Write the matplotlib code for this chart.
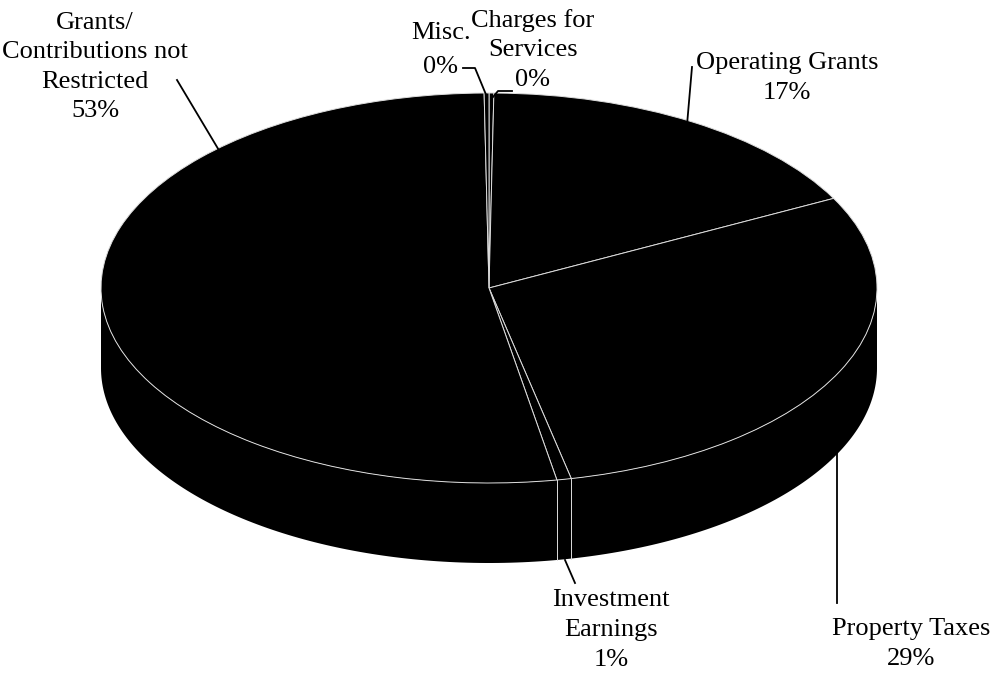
import numpy as np
import matplotlib.pyplot as plt
import matplotlib.patches as mpatches
from matplotlib.transforms import Affine2D

# revenue shares (percent), clockwise from 12 o'clock
names = ["Charges for\nServices", "Operating Grants", "Property Taxes",
         "Investment\nEarnings", "Grants/\nContributions not\nRestricted", "Misc."]
values = [0.2, 17.2, 29.2, 0.6, 52.6, 0.2]

plt.rcParams['font.family'] = ['Liberation Serif', 'DejaVu Serif']

fig = plt.figure(figsize=(9.94, 6.73), dpi=100)
ax = fig.add_axes([0, 0, 1, 1])
ax.set_xlim(0, 994)
ax.set_ylim(673, 0)
ax.axis('off')

# ellipse geometry in pixels
cx, cy, rx, ry, depth = 489, 288, 388, 195, 80
h = depth / ry
tr = Affine2D().scale(rx, -ry).translate(cx, cy) + ax.transData

# angles of slice boundaries (degrees, clockwise from top)
total = sum(values)
bounds = [90 - 360 * c / total for c in np.concatenate([[0], np.cumsum(values)])]

# side wall (front half)
t = np.radians(np.linspace(180, 360, 200))
side = np.concatenate([np.c_[np.cos(t), np.sin(t)],
                       np.c_[np.cos(t[::-1]), np.sin(t[::-1]) - h]])
ax.add_patch(mpatches.Polygon(side, closed=True, facecolor='black',
                              edgecolor='none', transform=tr))
for b in bounds:
    a = np.radians(b % 360)
    if np.sin(a) < 0:
        ax.plot([np.cos(a), np.cos(a)], [np.sin(a), np.sin(a) - h],
                color='#dddddd', lw=0.7, transform=tr)

# top face
for i in range(len(values)):
    w = mpatches.Wedge((0, 0), 1, bounds[i + 1], bounds[i], facecolor='black',
                       edgecolor='#dddddd', lw=0.7, transform=tr)
    ax.add_patch(w)

pct = [f"{v / total * 100:.0f}%" for v in values]
fs = 19
ls = 1.45

# labels and leader lines
ax.text(533, 50, names[0] + "\n" + pct[0], ha='center', va='center', fontsize=fs, linespacing=ls)
ax.plot([512, 498, 493], [91, 91, 97], color='black', lw=1.3)

ax.text(787, 78, names[1] + "\n" + pct[1], ha='center', va='center', fontsize=fs, linespacing=ls)
ax.plot([692, 687], [67, 125], color='black', lw=1.3)

ax.text(911, 644, names[2] + "\n" + pct[2], ha='center', va='center', fontsize=fs, linespacing=ls)
ax.plot([837, 837], [453, 603], color='black', lw=1.3)

ax.text(611, 630, names[3] + "\n" + pct[3], ha='center', va='center', fontsize=fs, linespacing=ls)
ax.plot([575, 565], [583, 560], color='black', lw=1.3)

ax.text(95, 67, names[4] + "\n" + pct[4], ha='center', va='center', fontsize=fs, linespacing=ls)
ax.plot([177, 220], [80, 152], color='black', lw=1.3)

ax.text(441, 50, names[5] + "\n" + pct[5], ha='center', va='center', fontsize=fs, linespacing=1.75)
ax.plot([463, 475, 487], [68, 68, 97], color='black', lw=1.3)

fig.savefig("out.png", dpi=100)
